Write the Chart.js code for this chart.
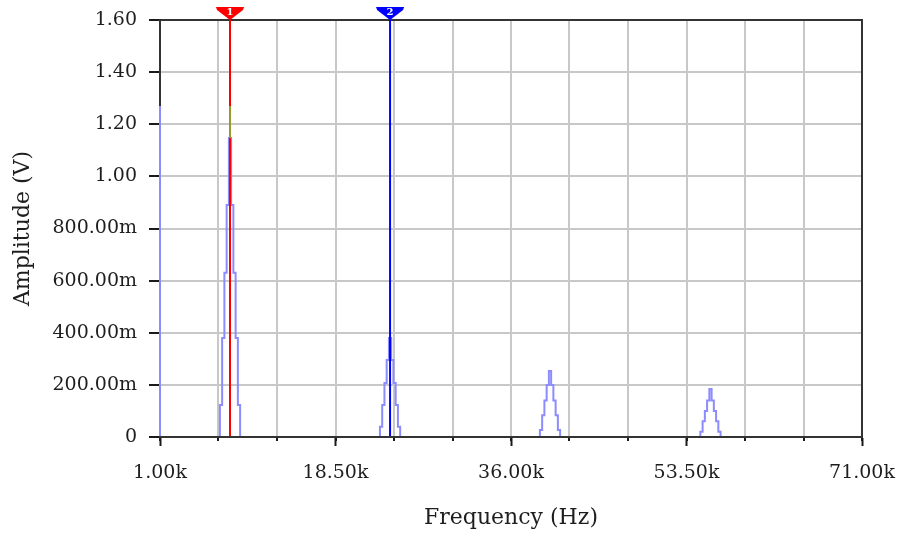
<!DOCTYPE html>
<html>
<head>
<meta charset="utf-8">
<title>Spectrum</title>
<script src="https://cdn.jsdelivr.net/npm/chart.js@4/dist/chart.umd.min.js"></script>
<style>
  html, body { margin: 0; padding: 0; background: #ffffff; }
  canvas { display: block; }
</style>
</head>
<body>
<canvas id="spectrumChart" width="898" height="539"></canvas>
<script>
// spectrum trace (Hz, V)
const spectrumFreq = [
  1000, 1000,
  6860, 7084, 7308, 7532, 7756, 7980, 8204, 8428, 8652, 8876, 9100,
  22820, 23044, 23268, 23492, 23716, 23940, 24164, 24388, 24612, 24836, 25060,
  38770, 38994, 39218, 39442, 39666, 39890, 40114, 40338, 40562, 40786, 41010,
  54770, 54994, 55218, 55442, 55666, 55890, 56114, 56338, 56562, 56786, 57010,
  71000,
];
const spectrumAmp = [
  1.27, 0,
  0, 0.123, 0.38, 0.63, 0.89, 1.147, 0.89, 0.63, 0.38, 0.123, 0,
  0, 0.039, 0.123, 0.207, 0.295, 0.38, 0.295, 0.207, 0.123, 0.039, 0,
  0, 0.027, 0.083, 0.14, 0.2, 0.253, 0.2, 0.14, 0.083, 0.027, 0,
  0, 0.02, 0.06, 0.1, 0.14, 0.184, 0.14, 0.1, 0.06, 0.02, 0,
  0,
];

// cursors 1 and 2
const cursorFreq = [7980, 23940];
const cursorLabels = ["1", "2"];
const cursorColors = ["#ff0000", "#0000ff"];

// short olive piece on cursor 1
const olivePieceAmp = [1.147, 1.27];

// axes
const xLabelTicks = [1000, 18500, 36000, 53500, 71000];
const xGridTicks = [1000, 6833, 12667, 18500, 24333, 30167, 36000, 41833, 47667, 53500, 59333, 65167, 71000];
const yTicks = [0, 0.2, 0.4, 0.6, 0.8, 1.0, 1.2, 1.4, 1.6];

const FONT = "DejaVu Serif";
const TEXT = "#1e1e1e";
const GRID = "#c8c8c8";
const AXIS = "#333333";

function fmtFreq(v) {
  return (v / 1000).toFixed(2) + "k";
}

function fmtAmp(v) {
  if (v === 0) return "0";
  if (v < 1) return (v * 1000).toFixed(2) + "m";
  return v.toFixed(2);
}

function setTicks(values) {
  return function (scale) {
    scale.ticks = values.map((v) => ({ value: v }));
  };
}

// the little flags on top of each cursor
const cursorFlags = {
  id: "cursorFlags",
  afterDraw(chart) {
    const { ctx, chartArea, scales } = chart;
    const top = chartArea.top;
    cursorFreq.forEach((f, i) => {
      const x = scales.x.getPixelForValue(f);
      ctx.save();
      ctx.fillStyle = cursorColors[i];
      ctx.beginPath();
      ctx.moveTo(x - 14, top - 13);
      ctx.lineTo(x + 14, top - 13);
      ctx.lineTo(x + 13, top - 10);
      ctx.lineTo(x, top);
      ctx.lineTo(x - 13, top - 10);
      ctx.closePath();
      ctx.fill();
      ctx.fillStyle = "#ffffff";
      ctx.font = "bold 10px " + FONT;
      ctx.textAlign = "center";
      ctx.textBaseline = "middle";
      ctx.fillText(cursorLabels[i], x, top - 8);
      ctx.restore();
    });
  },
};

function points(xs, ys) {
  return xs.map((x, i) => ({ x: x, y: ys[i] }));
}

function createChart() {
  const ctx = document.getElementById("spectrumChart").getContext("2d");
  new Chart(ctx, {
    type: "line",
    data: {
      datasets: [
        {
          data: points([cursorFreq[0], cursorFreq[0]], olivePieceAmp),
          borderColor: "#9a9a2a",
          borderWidth: 2,
          pointRadius: 0,
          order: 0,
        },
        {
          data: points([cursorFreq[0], cursorFreq[0]], [0, 1.6]),
          borderColor: cursorColors[0],
          borderWidth: 2,
          pointRadius: 0,
          order: 1,
        },
        {
          data: points([cursorFreq[1], cursorFreq[1]], [0, 1.6]),
          borderColor: cursorColors[1],
          borderWidth: 2,
          pointRadius: 0,
          order: 1,
        },
        {
          data: points(spectrumFreq, spectrumAmp),
          borderColor: "#8c8cff",
          borderWidth: 2,
          pointRadius: 0,
          stepped: "middle",
          clip: false,
          order: 2,
        },
      ],
    },
    options: {
      responsive: false,
      animation: false,
      devicePixelRatio: 1,
      layout: { padding: { top: 20, right: 36, left: 0, bottom: 0 } },
      plugins: {
        legend: { display: false },
        tooltip: { enabled: false },
      },
      scales: {
        x: {
          type: "linear",
          position: "bottom",
          min: 1000,
          max: 71000,
          weight: 0,
          afterBuildTicks: setTicks(xGridTicks),
          afterFit: (s) => { s.height = 0; s.paddingLeft = 0; s.paddingRight = 0; },
          ticks: { display: false },
          grid: { color: GRID, lineWidth: 2, tickLength: 4, tickColor: "#1a1a1a", tickWidth: 2 },
          border: { display: false },
        },
        xMajor: {
          type: "linear",
          position: "bottom",
          min: 1000,
          max: 71000,
          weight: 1,
          afterBuildTicks: setTicks(xLabelTicks),
          afterFit: (s) => { s.height = 102; s.paddingLeft = 0; s.paddingRight = 0; },
          ticks: {
            callback: fmtFreq,
            font: { family: FONT, size: 19 },
            color: TEXT,
            padding: 16,
            maxRotation: 0,
            autoSkip: false,
          },
          grid: { drawOnChartArea: false, tickLength: 9, tickColor: "#1a1a1a", tickWidth: 2 },
          // drawn after the trace so the zero line stays black
          border: { display: true, color: AXIS, width: 2, z: 1 },
          title: {
            display: true,
            text: "Frequency (Hz)",
            font: { family: FONT, size: 22 },
            color: TEXT,
            padding: { top: 0, bottom: 8 },
          },
        },
        xTop: {
          type: "linear",
          position: "top",
          afterFit: (s) => { s.height = 0; },
          ticks: { display: false },
          grid: { display: false },
          border: { display: true, color: AXIS, width: 2 },
        },
        y: {
          type: "linear",
          position: "left",
          min: 0,
          max: 1.6,
          afterBuildTicks: setTicks(yTicks),
          afterFit: (s) => { s.width = 160; s.paddingTop = 0; s.paddingBottom = 0; },
          ticks: {
            callback: fmtAmp,
            font: { family: FONT, size: 19 },
            color: TEXT,
            padding: 12,
            autoSkip: false,
          },
          grid: { color: GRID, lineWidth: 2, tickLength: 11, tickColor: "#1a1a1a", tickWidth: 2 },
          border: { display: true, color: AXIS, width: 2 },
          title: {
            display: true,
            text: "Amplitude (V)",
            font: { family: FONT, size: 22 },
            color: TEXT,
            padding: { top: 10, bottom: 0 },
          },
        },
        yRight: {
          type: "linear",
          position: "right",
          afterFit: (s) => { s.width = 0; },
          ticks: { display: false },
          grid: { display: false },
          border: { display: true, color: AXIS, width: 2 },
        },
      },
    },
    plugins: [cursorFlags],
  });
}

document.addEventListener("DOMContentLoaded", createChart);
</script>
</body>
</html>
